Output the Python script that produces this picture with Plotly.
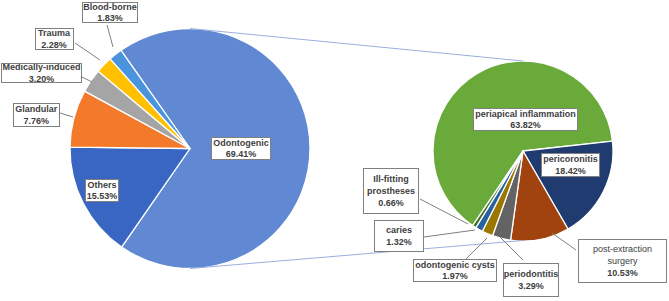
import plotly.graph_objects as go

W, H = 669, 301

# ---- data ----
main_labels = ["Odontogenic", "Others", "Glandular", "Medically-induced", "Trauma", "Blood-borne"]
main_values = [69.41, 15.53, 7.76, 3.20, 2.28, 1.83]
main_colors = ["#6088D3", "#3A66C3", "#F37A2A", "#A5A5A5", "#FFC000", "#4A94DE"]

sub_labels = ["periapical inflammation", "pericoronitis", "post-extraction surgery",
              "periodontitis", "odontogenic cysts", "caries", "Ill-fitting prostheses"]
sub_values = [63.82, 18.42, 10.53, 3.29, 1.97, 1.32, 0.66]
sub_colors = ["#6AAA3A", "#203B70", "#A0430E", "#636363", "#9C7700", "#2562A0", "#3E6A22"]

# label text lines (name lines, percentage shown bold)
main_text = {
    "Odontogenic": ["Odontogenic"],
    "Others": ["Others"],
    "Glandular": ["Glandular"],
    "Medically-induced": ["Medically-induced"],
    "Trauma": ["Trauma"],
    "Blood-borne": ["Blood-borne"],
}
sub_text = {
    "periapical inflammation": ["periapical inflammation"],
    "pericoronitis": ["pericoronitis"],
    "post-extraction surgery": ["post-extraction", "surgery"],
    "periodontitis": ["periodontitis"],
    "odontogenic cysts": ["odontogenic cysts"],
    "caries": ["caries"],
    "Ill-fitting prostheses": ["Ill-fitting", "prostheses"],
}

# ---- layout geometry (pixels) ----
# label boxes: x0, x1, y0, y1
boxes = {
    "Blood-borne": (82, 138, 2, 23),
    "Trauma": (35, 74, 28, 50),
    "Medically-induced": (1, 82, 63, 83),
    "Glandular": (13, 60, 103, 127),
    "Others": (85, 119, 179, 202),
    "Odontogenic": (211, 271, 137, 160),
    "periapical inflammation": (473, 578, 108, 131),
    "pericoronitis": (541, 600, 153, 177),
    "Ill-fitting prostheses": (363, 419, 168, 214),
    "caries": (374, 424, 220, 252),
    "odontogenic cysts": (413, 497, 259, 282),
    "periodontitis": (503, 559, 263, 297),
    "post-extraction surgery": (578, 667, 239, 283),
}
leaders = [
    (107, 25, 113, 47),
    (75, 43, 100, 60),
    (82, 77, 92, 82),
    (60, 113, 73, 117),
    (420, 199, 468, 224),
    (424, 237, 475, 230),
    (465, 260, 487, 238),
    (523, 260, 500, 237),
    (576, 250, 552, 233),
]
left_center, left_r = (190, 148.5), 120
right_center, right_r = (523, 151), 90


def px(x):
    return x / W


def py(y):
    return 1 - y / H


def dom(c, r):
    return dict(x=[px(c[0] - r), px(c[0] + r)], y=[py(c[1] + r), py(c[1] - r)])


fig = go.Figure()
fig.add_trace(go.Pie(
    labels=main_labels, values=main_values, sort=False, direction="clockwise",
    rotation=-35.1, marker=dict(colors=main_colors, line=dict(color="white", width=1.3)),
    textinfo="none", hoverinfo="label+percent", domain=dom(left_center, left_r),
    showlegend=False,
))
fig.add_trace(go.Pie(
    labels=sub_labels, values=sub_values, sort=False, direction="clockwise",
    rotation=214, marker=dict(colors=sub_colors, line=dict(color="white", width=1.3)),
    textinfo="none", hoverinfo="label+percent", domain=dom(right_center, right_r),
    showlegend=False,
))

shapes = []
# connector lines between the pies
shapes.append(dict(type="line", xref="paper", yref="paper",
                   x0=px(left_center[0]), y0=py(left_center[1] - left_r),
                   x1=px(right_center[0]), y1=py(right_center[1] - right_r),
                   line=dict(color="#9AAEDD", width=1)))
shapes.append(dict(type="line", xref="paper", yref="paper",
                   x0=px(left_center[0]), y0=py(left_center[1] + left_r),
                   x1=px(right_center[0]), y1=py(right_center[1] + right_r - 0.5),
                   line=dict(color="#9AAEDD", width=1)))
for (x0, y0, x1, y1) in leaders:
    shapes.append(dict(type="line", xref="paper", yref="paper",
                       x0=px(x0), y0=py(y0), x1=px(x1), y1=py(y1),
                       line=dict(color="#7F7F7F", width=1)))

annotations = []
font = dict(family="Liberation Sans, Arial, sans-serif", size=9, color="#404040")


def add_label(name, lines, value):
    x0, x1, y0, y1 = boxes[name]
    if name == "post-extraction surgery":
        txt = "<br>".join(lines) + "<br><b>%.2f%%</b>" % value
    else:
        txt = "<b>" + "<br>".join(lines) + "<br>%.2f%%</b>" % value
    annotations.append(dict(
        xref="paper", yref="paper", x=px((x0 + x1) / 2), y=py((y0 + y1) / 2),
        xanchor="center", yanchor="middle", text=txt, showarrow=False,
        font=font, bgcolor="white", bordercolor="#808080", borderwidth=1,
        borderpad=0, width=x1 - x0 - 2, height=y1 - y0 - 2, align="center",
    ))


for n, v in zip(main_labels, main_values):
    add_label(n, main_text[n], v)
for n, v in zip(sub_labels, sub_values):
    add_label(n, sub_text[n], v)

fig.update_layout(
    width=W, height=H, margin=dict(l=0, r=0, t=0, b=0),
    paper_bgcolor="white", plot_bgcolor="white",
    shapes=shapes, annotations=annotations,
)

fig.write_html("out.html", config={"displayModeBar": False},
               post_script="document.body.style.margin='0';document.body.style.overflow='hidden';")
